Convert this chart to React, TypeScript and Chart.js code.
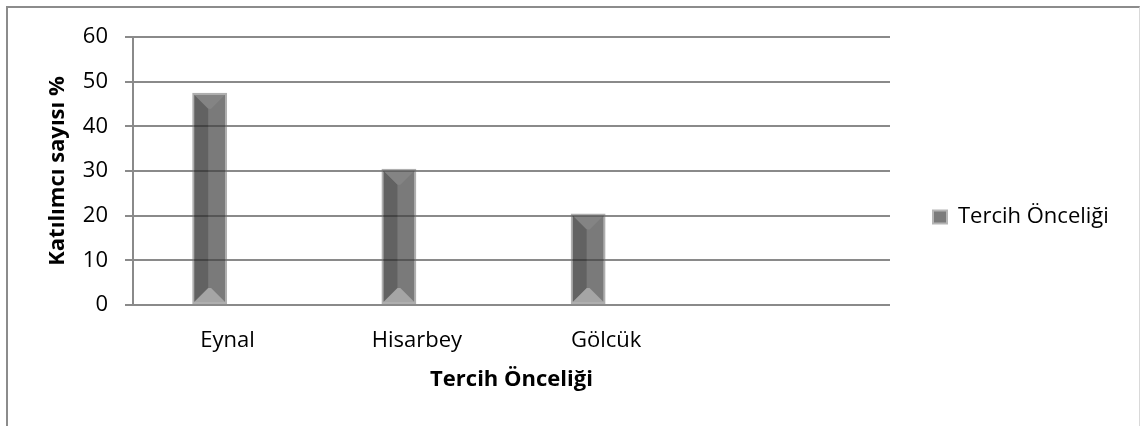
import React, { useEffect, useRef } from "react";
import { Chart, registerables } from "chart.js";

Chart.register(...registerables);

// ---- data ----
const categories = ["Eynal", "Hisarbey", "Gölcük", ""];
const seriesName = "Tercih Önceliği";
const seriesValues: (number | null)[] = [47.5, 30.5, 20.5, null];
const placeholderValues: (number | null)[] = [null, null, null, null];
const yTickValues = [0, 10, 20, 30, 40, 50, 60];
const xTitle = "Tercih Önceliği";
const yTitle = "Katılımcı sayısı %";

const W = 1141;
const H = 426;
const FONT = "'Open Sans', sans-serif";
const PLOT_LEFT = 133;
const PLOT_RIGHT = 890;
const LEGEND_PAD = 43;
const LEGEND_FONT = 22;
const LEGEND_BOX = 14;

const bevelPlugin = {
  id: "bevel",
  afterDatasetsDraw(chart: any) {
    const meta = chart.getDatasetMeta(0);
    const ctx = chart.ctx;
    meta.data.forEach((el: any, i: number) => {
      if (seriesValues[i] == null) return;
      const p = el.getProps(["x", "y", "base", "width"], true);
      if (p.y == null || isNaN(p.y)) return;
      const bw = 2;
      const L = p.x - p.width / 2 + bw;
      const R = p.x + p.width / 2 - bw;
      const T = Math.min(p.y, p.base) + bw;
      const B = Math.max(p.y, p.base) - bw;
      const d = Math.min(14, (R - L) / 2 - 1, (B - T) / 2);
      ctx.save();
      // left face (darker)
      ctx.fillStyle = "rgba(0,0,0,0.2)";
      ctx.beginPath();
      ctx.moveTo(L, T);
      ctx.lineTo(L + d, T + d);
      ctx.lineTo(L + d, B - d);
      ctx.lineTo(L, B);
      ctx.closePath();
      ctx.fill();
      // top face (slightly lighter)
      ctx.fillStyle = "rgba(255,255,255,0.08)";
      ctx.beginPath();
      ctx.moveTo(L, T);
      ctx.lineTo(R, T);
      ctx.lineTo(R - d, T + d);
      ctx.lineTo(L + d, T + d);
      ctx.closePath();
      ctx.fill();
      // bottom face (light)
      ctx.fillStyle = "rgba(255,255,255,0.32)";
      ctx.beginPath();
      ctx.moveTo(L, B);
      ctx.lineTo(R, B);
      ctx.lineTo(R - d, B - d);
      ctx.lineTo(L + d, B - d);
      ctx.closePath();
      ctx.fill();
      ctx.restore();
    });
  },
};

export default function App() {
  const canvasRef = useRef<HTMLCanvasElement | null>(null);

  useEffect(() => {
    const canvas = canvasRef.current;
    if (!canvas) return;

    // measure legend text to place the plot's right edge
    const mctx = document.createElement("canvas").getContext("2d")!;
    mctx.font = `${LEGEND_FONT}px ${FONT}`;
    const tw = mctx.measureText(seriesName).width;
    const legendWidth = LEGEND_PAD + LEGEND_BOX + LEGEND_FONT / 2 + tw + 10;
    const padRight = Math.max(0, W - PLOT_RIGHT - legendWidth);

    Chart.defaults.font.family = FONT;
    Chart.defaults.color = "#000";

    const chart = new Chart(canvas, {
      type: "bar",
      data: {
        labels: categories,
        datasets: [
          {
            label: seriesName,
            data: seriesValues,
            backgroundColor: "rgba(63,63,63,0.69)",
            borderColor: "rgba(110,110,110,0.55)",
            borderWidth: (c: any) => (c.raw == null ? 0 : 2),
            borderSkipped: false,
            categoryPercentage: 0.38,
            barPercentage: 0.97,
          },
          {
            label: "",
            data: placeholderValues,
            backgroundColor: "rgba(0,0,0,0)",
            borderWidth: 0,
            categoryPercentage: 0.38,
            barPercentage: 0.97,
          },
        ],
      },
      options: {
        responsive: false,
        animation: false,
        devicePixelRatio: 1,
        layout: { padding: { left: 41, right: padRight, top: 37, bottom: 29 } },
        plugins: {
          tooltip: { enabled: false },
          legend: {
            display: true,
            position: "right",
            labels: {
              font: { size: LEGEND_FONT, family: FONT },
              color: "#000",
              boxWidth: LEGEND_BOX,
              boxHeight: 13,
              padding: LEGEND_PAD,
              filter: (item: any) => item.datasetIndex === 0,
              generateLabels: (ch: any) => [
                {
                  text: seriesName,
                  fillStyle: "#7b7b7b",
                  strokeStyle: "#b5b5b5",
                  lineWidth: 2,
                  fontColor: "#000",
                  datasetIndex: 0,
                  hidden: false,
                },
              ],
            },
          },
        },
        scales: {
          x: {
            grid: { display: false },
            border: { display: false },
            ticks: { font: { size: 22 }, color: "#000", padding: 15 },
            title: {
              display: true,
              text: xTitle,
              font: { size: 22, weight: "bold" },
              color: "#000",
              padding: 4,
            },
            afterFit: (s: any) => {
              s.height = 92;
            },
          },
          y: {
            min: 0,
            max: 60,
            afterBuildTicks: (s: any) => {
              s.ticks = yTickValues.map((v) => ({ value: v }));
            },
            grid: { color: "#8a8a8a", lineWidth: 2, tickLength: 8, drawTicks: true },
            border: { display: true, color: "#8a8a8a", width: 2 },
            ticks: { font: { size: 22 }, color: "#000", padding: 17 },
            title: {
              display: true,
              text: yTitle,
              font: { size: 22, weight: "bold" },
              color: "#000",
              padding: 4,
            },
            afterFit: (s: any) => {
              s.width = PLOT_LEFT - 41;
            },
          },
        },
      },
      plugins: [bevelPlugin],
    });
    return () => chart.destroy();
  }, []);

  return (
    <div style={{ position: "absolute", left: 0, top: 0, width: W, height: H, overflow: "hidden", background: "#fff" }}>
      <div
        style={{
          position: "absolute",
          left: 6,
          top: 6,
          width: W - 7,
          height: H + 20,
          borderLeft: "2px solid #8c8c8c",
          borderTop: "2px solid #8c8c8c",
          borderRight: "1px solid #d9d9d9",
          boxSizing: "border-box",
        }}
      />
      <canvas ref={canvasRef} width={W} height={H} style={{ position: "absolute", left: 0, top: 0, width: W, height: H }} />
    </div>
  );
}
